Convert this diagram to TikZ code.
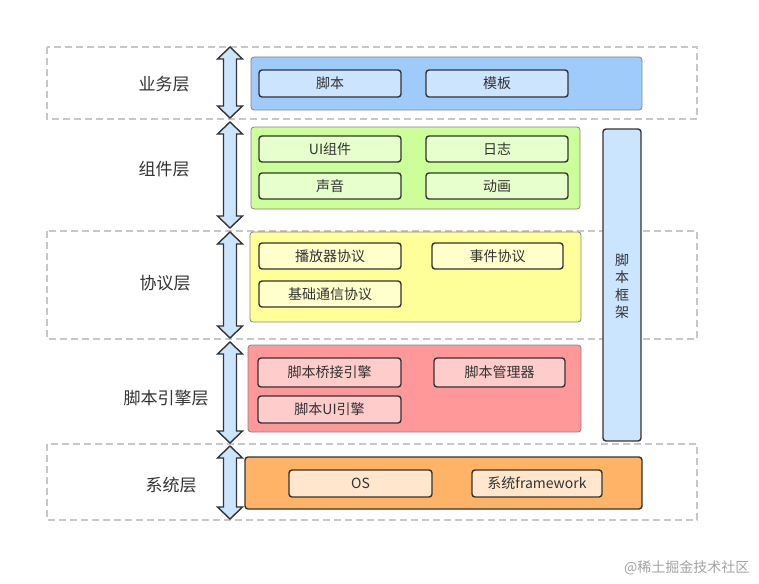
\documentclass[tikz,border=0pt]{standalone}
\usepackage{fontspec}
\setmainfont{Noto Sans CJK SC}
\definecolor{ink}{HTML}{333333}
\definecolor{dashgray}{HTML}{C8C8C8}
\definecolor{bluebig}{HTML}{9ECBFA}
\definecolor{bluein}{HTML}{CCE4FD}
\definecolor{greenbig}{HTML}{CCFF99}
\definecolor{greenin}{HTML}{E6FFCC}
\definecolor{yellowbig}{HTML}{FFFF99}
\definecolor{yellowin}{HTML}{FFFFCC}
\definecolor{redbig}{HTML}{FF9999}
\definecolor{redin}{HTML}{FFCCCC}
\definecolor{orangebig}{HTML}{FFB366}
\definecolor{orangein}{HTML}{FFE6CC}
\definecolor{arrowfill}{HTML}{CCE5FF}
\begin{document}
\begin{tikzpicture}[x=1pt,y=-1pt,
  frame/.style={draw=dashgray,dash pattern=on 7pt off 4pt,line width=1.2pt},
  bigbox/.style={rounded corners=3pt,line width=0.8pt},
  inbox/.style={draw=ink,rounded corners=3pt,line width=1.4pt,text=ink,font=\fontsize{14}{16}\selectfont},
  layerlabel/.style={text=ink,font=\fontsize{17}{20}\selectfont},
  arrowshape/.style={draw=ink,fill=arrowfill,line width=1.4pt,line join=miter}]
\useasboundingbox (0,0) rectangle (759,583);
% dashed frames
\draw[frame] (47,47) rectangle (697,119);
\draw[frame] (47,231) rectangle (697,339);
\draw[frame] (47,444) rectangle (697,520);
% big coloured boxes
\draw[bigbox,draw=ink!60,fill=bluebig] (251,57) rectangle (642,110);
\draw[bigbox,draw=ink!60,fill=greenbig] (251,127) rectangle (580,209);
\draw[bigbox,draw=ink!60,fill=yellowbig] (250,232) rectangle (581,322);
\draw[bigbox,draw=ink!60,fill=redbig] (248,345) rectangle (581,432);
\draw[bigbox,draw=ink,line width=1.4pt,fill=orangebig] (245,457) rectangle (642,509);
% vertical frame box
\draw[bigbox,draw=ink,line width=1.4pt,fill=arrowfill] (603,129) rectangle (641,441);
\node[text=ink,font=\fontsize{14}{17.5}\selectfont,align=center] (kj) at (622,286) {脚\\本\\框\\架};
% inner boxes
\newcommand\ibox[7]{\draw[inbox,fill=#6] (#2,#3) rectangle (#4,#5) node[midway,draw=none] (#1) {#7};}
\ibox{a1}{259}{70}{401}{97}{bluein}{脚本}
\ibox{a2}{426}{70}{568}{97}{bluein}{模板}
\ibox{b1}{259}{136}{401}{162}{greenin}{UI组件}
\ibox{b2}{426}{136}{568}{162}{greenin}{日志}
\ibox{b3}{259}{173}{401}{199}{greenin}{声音}
\ibox{b4}{426}{173}{568}{199}{greenin}{动画}
\ibox{c1}{259}{243}{401}{269}{yellowin}{播放器协议}
\ibox{c2}{432}{243}{563}{269}{yellowin}{事件协议}
\ibox{c3}{259}{281}{401}{307}{yellowin}{基础通信协议}
\ibox{d1}{258}{358}{401}{387}{redin}{脚本桥接引擎}
\ibox{d2}{434}{358}{565}{387}{redin}{脚本管理器}
\ibox{d3}{258}{396}{401}{423}{redin}{脚本UI引擎}
\ibox{e1}{289}{470}{432}{497}{orangein}{OS}
\ibox{e2}{472}{470}{602}{497}{orangein}{系统framework}
% layer labels
\node[layerlabel] (l1) at (164,84) {业务层};
\node[layerlabel] (l2) at (164,169) {组件层};
\node[layerlabel] (l3) at (165,283) {协议层};
\node[layerlabel] (l4) at (166,398) {脚本引擎层};
\node[layerlabel] (l5) at (171,485) {系统层};
% double arrows
\foreach \ya/\yb in {47/118, 122/228, 232/338, 342/443, 446/519}{
  \draw[arrowshape] (230,\ya) -- (242.5,\ya+12) -- (236.5,\ya+12) -- (236.5,\yb-12) -- (242.5,\yb-12)
    -- (230,\yb) -- (217.5,\yb-12) -- (223.5,\yb-12) -- (223.5,\ya+12) -- (217.5,\ya+12) -- cycle;
}
% watermark
\node[text=ink!45,font=\fontsize{14}{16}\selectfont,anchor=east] (wm) at (753,568) {@稀土掘金技术社区};
\end{tikzpicture}
\end{document}
